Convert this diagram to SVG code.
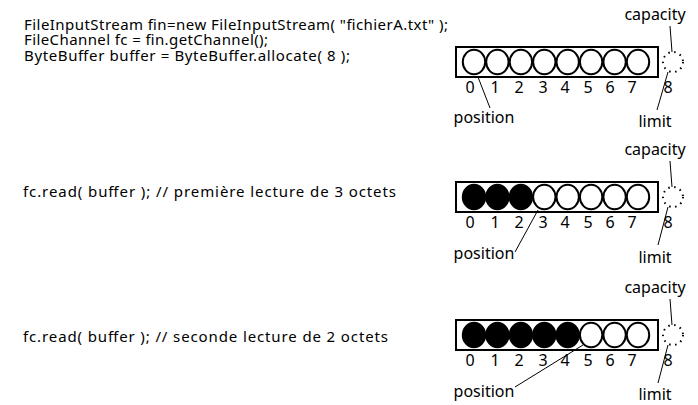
<svg xmlns="http://www.w3.org/2000/svg" width="698" height="405" viewBox="0 0 698 405">
<style>
text{font-family:"Noto Sans","Open Sans","DejaVu Sans",sans-serif;font-size:16px;fill:#000}
.code{font-size:15px}
.box{fill:#fff;stroke:#000;stroke-width:2}
.c{fill:#fff;stroke:#000;stroke-width:2}
.f{fill:#000;stroke:#000;stroke-width:2}
.cap{fill:none;stroke:#000;stroke-width:2;stroke-dasharray:1.5 4.5}
.ln{stroke:#000;stroke-width:1;fill:none}
.d{text-anchor:middle}
</style>
<rect width="698" height="405" fill="#fff"/>
<g id="code">
<text class="code" x="24" y="30" textLength="424" lengthAdjust="spacing">FileInputStream fin=new FileInputStream( "fichierA.txt" );</text>
<text class="code" x="24" y="45" textLength="244" lengthAdjust="spacing">FileChannel fc = fin.getChannel();</text>
<text class="code" x="24" y="61" textLength="326" lengthAdjust="spacing">ByteBuffer buffer = ByteBuffer.allocate( 8 );</text>
<text class="code" x="23" y="197" textLength="373" lengthAdjust="spacing">fc.read( buffer ); // première lecture de 3 octets</text>
<text class="code" x="23" y="342" textLength="365" lengthAdjust="spacing">fc.read( buffer ); // seconde lecture de 2 octets</text>
</g>
<g id="buffer1">
<rect class="box" x="456" y="47" width="202" height="30"/>
<ellipse class="c" cx="474" cy="62" rx="11.2" ry="12.3"/>
<ellipse class="c" cx="497.4" cy="62" rx="11.2" ry="12.3"/>
<ellipse class="c" cx="520.9" cy="62" rx="11.2" ry="12.3"/>
<ellipse class="c" cx="544.3" cy="62" rx="11.2" ry="12.3"/>
<ellipse class="c" cx="567.7" cy="62" rx="11.2" ry="12.3"/>
<ellipse class="c" cx="591.1" cy="62" rx="11.2" ry="12.3"/>
<ellipse class="c" cx="614.6" cy="62" rx="11.2" ry="12.3"/>
<ellipse class="c" cx="638" cy="62" rx="11.2" ry="12.3"/>
<circle class="cap" cx="673" cy="62" r="10"/>
<text class="d" x="470" y="93">0</text><text class="d" x="495" y="93">1</text><text class="d" x="519" y="93">2</text><text class="d" x="543" y="93">3</text><text class="d" x="565" y="93">4</text><text class="d" x="588" y="93">5</text><text class="d" x="610" y="93">6</text><text class="d" x="632" y="93">7</text><text class="d" x="668" y="93">8</text>
<text class="d" x="655" y="20">capacity</text>
<text class="d" x="655" y="127">limit</text>
<text class="d" x="484" y="123">position</text>
</g>
<g id="buffer2">
<rect class="box" x="456" y="182" width="202" height="30"/>
<ellipse class="f" cx="474" cy="197" rx="11.2" ry="12.3"/>
<ellipse class="f" cx="497.4" cy="197" rx="11.2" ry="12.3"/>
<ellipse class="f" cx="520.9" cy="197" rx="11.2" ry="12.3"/>
<ellipse class="c" cx="544.3" cy="197" rx="11.2" ry="12.3"/>
<ellipse class="c" cx="567.7" cy="197" rx="11.2" ry="12.3"/>
<ellipse class="c" cx="591.1" cy="197" rx="11.2" ry="12.3"/>
<ellipse class="c" cx="614.6" cy="197" rx="11.2" ry="12.3"/>
<ellipse class="c" cx="638" cy="197" rx="11.2" ry="12.3"/>
<circle class="cap" cx="673" cy="197" r="10"/>
<text class="d" x="470" y="228">0</text><text class="d" x="495" y="228">1</text><text class="d" x="519" y="228">2</text><text class="d" x="543" y="228">3</text><text class="d" x="565" y="228">4</text><text class="d" x="588" y="228">5</text><text class="d" x="610" y="228">6</text><text class="d" x="632" y="228">7</text><text class="d" x="668" y="228">8</text>
<text class="d" x="655" y="155">capacity</text>
<text class="d" x="655" y="263">limit</text>
<text class="d" x="484" y="259">position</text>
</g>
<g id="buffer3">
<rect class="box" x="456" y="320" width="202" height="30"/>
<ellipse class="f" cx="474" cy="335" rx="11.2" ry="12.3"/>
<ellipse class="f" cx="497.4" cy="335" rx="11.2" ry="12.3"/>
<ellipse class="f" cx="520.9" cy="335" rx="11.2" ry="12.3"/>
<ellipse class="f" cx="544.3" cy="335" rx="11.2" ry="12.3"/>
<ellipse class="f" cx="567.7" cy="335" rx="11.2" ry="12.3"/>
<ellipse class="c" cx="591.1" cy="335" rx="11.2" ry="12.3"/>
<ellipse class="c" cx="614.6" cy="335" rx="11.2" ry="12.3"/>
<ellipse class="c" cx="638" cy="335" rx="11.2" ry="12.3"/>
<circle class="cap" cx="673" cy="335" r="10"/>
<text class="d" x="470" y="366">0</text><text class="d" x="495" y="366">1</text><text class="d" x="519" y="366">2</text><text class="d" x="543" y="366">3</text><text class="d" x="565" y="366">4</text><text class="d" x="588" y="366">5</text><text class="d" x="610" y="366">6</text><text class="d" x="632" y="366">7</text><text class="d" x="668" y="366">8</text>
<text class="d" x="655" y="293">capacity</text>
<text class="d" x="655" y="400">limit</text>
<text class="d" x="484" y="397">position</text>
</g>
<g id="connectors">
<line class="ln" x1="670" y1="26" x2="672" y2="52"/>
<line class="ln" x1="668" y1="72" x2="657" y2="110"/>
<line class="ln" x1="478" y1="77" x2="490" y2="108"/>
<line class="ln" x1="670" y1="161" x2="672" y2="187"/>
<line class="ln" x1="668" y1="207" x2="658" y2="245"/>
<line class="ln" x1="538" y1="210" x2="515" y2="252"/>
<line class="ln" x1="670" y1="299" x2="672" y2="325"/>
<line class="ln" x1="668" y1="345" x2="658" y2="383"/>
<line class="ln" x1="583" y1="345" x2="515" y2="387"/>
</g>
</svg>
